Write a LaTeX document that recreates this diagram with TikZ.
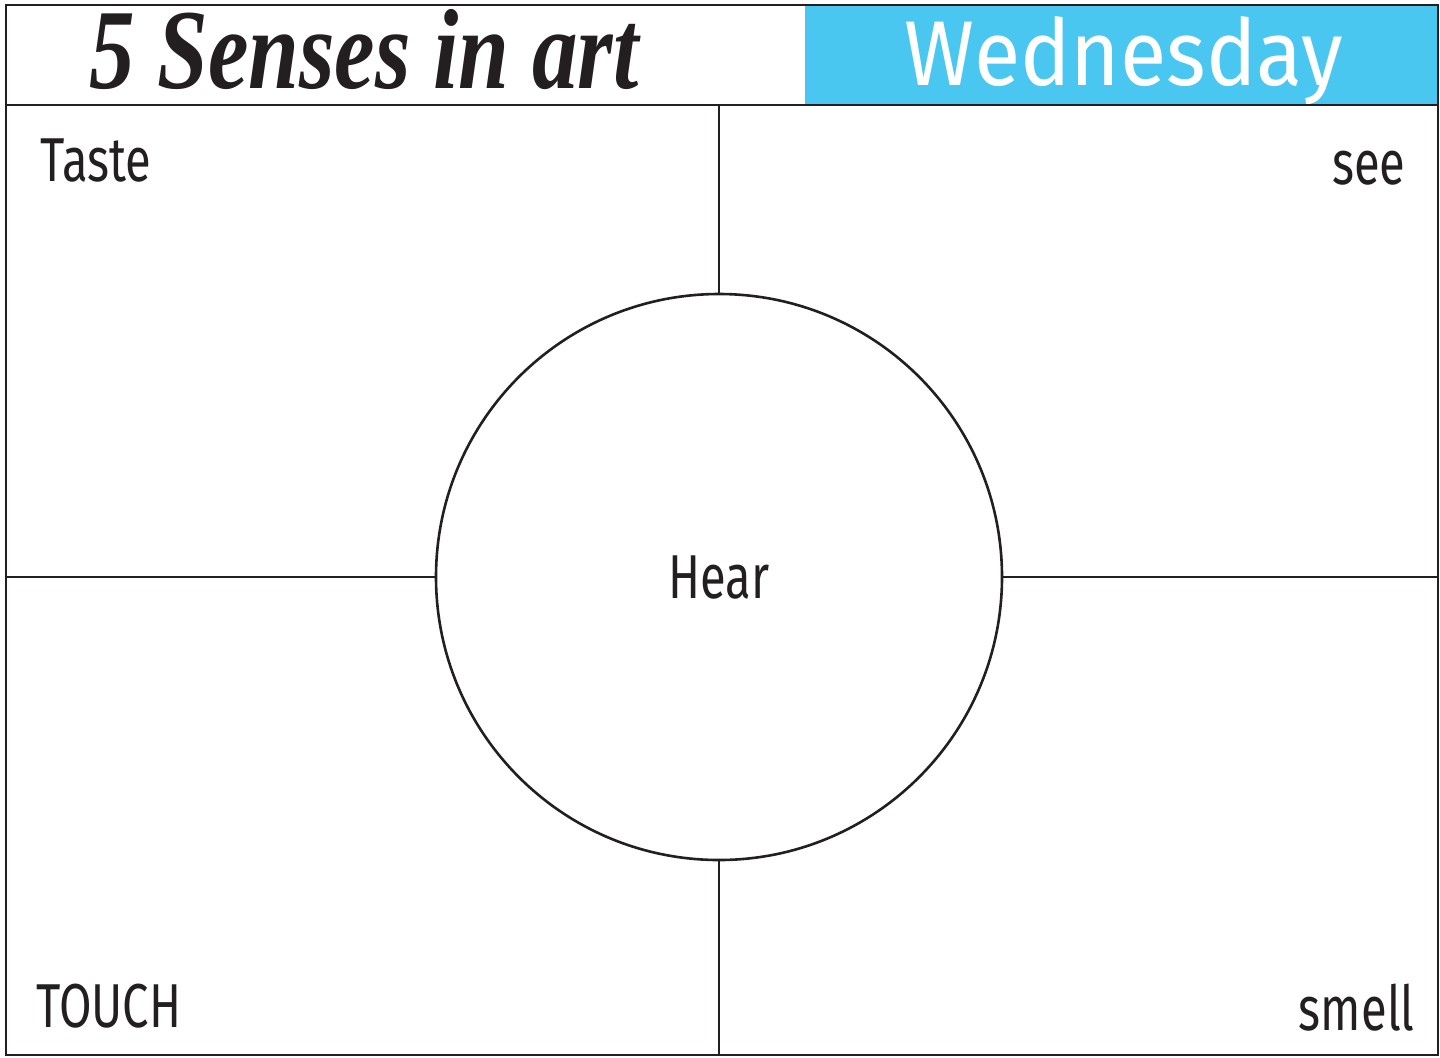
\documentclass[tikz,border=0pt]{standalone}
\usepackage{fontspec}
\usetikzlibrary{positioning}
\newfontfamily\sensefont[FakeStretch=0.76]{Fira Sans}
\newfontfamily\dayfont[FakeStretch=0.92]{Fira Sans}
\newfontfamily\titlefont[FakeStretch=0.8]{Liberation Serif}
\definecolor{inkdark}{HTML}{231F20}
\definecolor{dayblue}{HTML}{4AC7F1}
\tikzset{frameline/.style={draw=inkdark,line width=1.3pt},
  senselabel/.style={font=\sensefont\fontsize{31}{31}\selectfont,text=inkdark,inner sep=0pt},
  hearcircle/.style={circle,draw=inkdark,line width=1.3pt,fill=white,minimum size=283pt,inner sep=0pt,
    font=\sensefont\fontsize{31}{31}\selectfont,text=inkdark},
  daylabel/.style={font=\dayfont\fontsize{46}{46}\selectfont,text=white,inner sep=0pt},
  titlelabel/.style={font=\titlefont\bfseries\itshape\fontsize{57}{57}\selectfont,text=inkdark,inner sep=0pt}}

\begin{document}
\begin{tikzpicture}[x=0.5pt,y=-0.5pt]
\path[use as bounding box] (0,0) rectangle (1440,1057);
% header
\fill[dayblue] (805,5) rectangle (1438,104);
\node[titlelabel,anchor=base] (title) at (364,88) {5 Senses in art};
\node[daylabel,anchor=base] (day) at (1124,85) {Wednesday};
\draw[frameline] (6,5) rectangle (1438,1055);
\draw[frameline] (6,105) -- (1438,105);
% quarters
\node[hearcircle] (hear) at (719,577) {Hear};
\coordinate (topmid) at (hear.north |- 0,105);
\coordinate (botmid) at (hear.south |- 0,1055);
\coordinate (leftmid) at (hear.west -| 6,0);
\coordinate (rightmid) at (hear.east -| 1438,0);
\draw[frameline] (topmid) -- (hear.north);
\draw[frameline] (hear.south) -- (botmid);
\draw[frameline] (leftmid) -- (hear.west);
\draw[frameline] (hear.east) -- (rightmid);
\node[senselabel,anchor=base west] (taste) at (40,181) {Taste};
\node[senselabel,anchor=base east] (see) at (1406,184) {see};
\node[senselabel,anchor=base west] (touch) at (36,1027) {TOUCH};
\node[senselabel,anchor=base east] (smell) at (1415,1030) {smell};
\end{tikzpicture}
\end{document}
